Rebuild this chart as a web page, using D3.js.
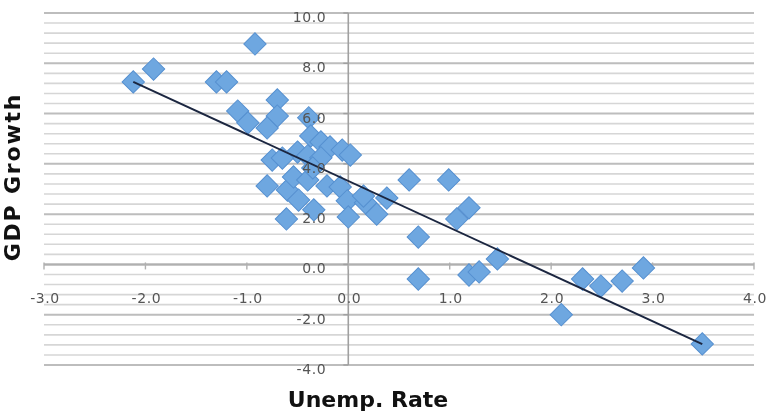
<!DOCTYPE html>
<html>
<head>
<meta charset="utf-8">
<script src="https://cdn.jsdelivr.net/npm/d3@7"></script>
<style>
  html, body { margin: 0; padding: 0; background: #fff; }
  svg { display: block; }
</style>
</head>
<body>
<svg id="chart" width="775" height="417"></svg>
<script>
// Unemployment-rate change vs. GDP growth, one diamond per observation
const unempRate = [
  -2.12, -1.92, -0.92, -1.30, -1.20, -1.09, -0.99, -0.70, -0.70, -0.80,
  -0.39, -0.37, -0.27, -0.18, -0.06, 0.02, -0.50, -0.40, -0.75, -0.65,
  -0.27, -0.80, -0.60, -0.54, -0.40, -0.21, -0.08, -0.49, -0.61, -0.34,
  -0.01, 0.00, 0.17, 0.28, 0.38, 0.15, 0.60, 0.99, 0.69, 0.69,
  1.07, 1.19, 1.19, 1.29, 1.47, 2.10, 2.31, 2.49, 2.70, 2.91,
  3.49, -0.35
];
const gdpGrowth = [
  7.26, 7.77, 8.77, 7.26, 7.26, 6.10, 5.63, 6.54, 5.90, 5.43,
  5.83, 5.11, 4.87, 4.67, 4.55, 4.35, 4.47, 4.32, 4.15, 4.23,
  4.24, 3.12, 2.96, 3.48, 3.36, 3.12, 3.08, 2.56, 1.81, 2.17,
  2.53, 1.89, 2.45, 2.00, 2.64, 2.72, 3.36, 3.36, 1.09, -0.58,
  1.81, 2.25, -0.42, -0.30, 0.22, -2.00, -0.58, -0.86, -0.66, -0.14,
  -3.16, 3.84
];

// Linear trend: GDP growth = trendIntercept + trendSlope * unemployment change
const trendSlope = -1.86;
const trendIntercept = 3.32;

const xTicks = [-3, -2, -1, 0, 1, 2, 3, 4];
const yTicks = [-4, -2, 0, 2, 4, 6, 8, 10];
const yMinorStep = 0.4;

const xTitle = "Unemp. Rate";
const yTitle = "GDP Growth";

const points = unempRate.map((u, i) => ({ x: u, y: gdpGrowth[i] }));

const svg = d3.select("#chart");

const x = d3.scaleLinear().domain([-3, 4]).range([44, 754]);
const y = d3.scaleLinear().domain([-4, 10]).range([365, 13]);

const defs = svg.append("defs");
defs.append("filter").attr("id", "soft")
  .attr("x", "-20%").attr("y", "-20%").attr("width", "140%").attr("height", "140%")
  .append("feGaussianBlur").attr("stdDeviation", 0.6);

// Horizontal gridlines: minor every 0.4, major every 2
const minorVals = d3.range(-4, 10 + 1e-9, yMinorStep).map(v => +v.toFixed(2));
const isMajor = v => Math.abs(v / 2 - Math.round(v / 2)) < 1e-6;
const grid = svg.append("g").attr("filter", "url(#soft)");
grid.selectAll("line.minor")
  .data(minorVals.filter(v => !isMajor(v)))
  .join("line")
  .attr("class", "minor")
  .attr("x1", x(-3)).attr("x2", x(4))
  .attr("y1", d => y(d)).attr("y2", d => y(d))
  .attr("stroke", "#d6d6d6").attr("stroke-width", 1.6);
grid.selectAll("line.major")
  .data(yTicks)
  .join("line")
  .attr("class", "major")
  .attr("x1", x(-3)).attr("x2", x(4))
  .attr("y1", d => y(d)).attr("y2", d => y(d))
  .attr("stroke", "#bdbdbd").attr("stroke-width", 2);

// Axes crossing at the origin
const axes = svg.append("g").attr("filter", "url(#soft)");
axes.append("line")
  .attr("x1", x(0)).attr("x2", x(0))
  .attr("y1", y(10)).attr("y2", y(-4))
  .attr("stroke", "#a0a0a0").attr("stroke-width", 1.6);
axes.append("line")
  .attr("x1", x(-3)).attr("x2", x(4))
  .attr("y1", y(0)).attr("y2", y(0))
  .attr("stroke", "#b0b0b0").attr("stroke-width", 2);
axes.selectAll("line.xtick")
  .data(xTicks)
  .join("line")
  .attr("class", "xtick")
  .attr("x1", d => x(d)).attr("x2", d => x(d))
  .attr("y1", y(0) - 2).attr("y2", y(0) + 5)
  .attr("stroke", "#b0b0b0").attr("stroke-width", 1.4);
axes.selectAll("line.ytick")
  .data(yTicks)
  .join("line")
  .attr("class", "ytick")
  .attr("x1", x(0) - 5).attr("x2", x(0))
  .attr("y1", d => y(d)).attr("y2", d => y(d))
  .attr("stroke", "#a0a0a0").attr("stroke-width", 1.4);

// Data markers
const diamond = d3.symbol().type(d3.symbolSquare).size(250);
svg.append("g").attr("filter", "url(#soft)")
  .selectAll("path")
  .data(points)
  .join("path")
  .attr("d", diamond)
  .attr("transform", d => `translate(${x(d.x)},${y(d.y)}) rotate(45)`)
  .attr("fill", "#6ea7e0")
  .attr("stroke", "#5690d0")
  .attr("stroke-width", 1);

// Trendline across the observed range
const xExtent = d3.extent(unempRate);
svg.append("line")
  .attr("x1", x(xExtent[0])).attr("y1", y(trendIntercept + trendSlope * xExtent[0]))
  .attr("x2", x(xExtent[1])).attr("y2", y(trendIntercept + trendSlope * xExtent[1]))
  .attr("stroke", "#1b2640").attr("stroke-width", 2);

// Tick labels (drawn above the markers, plain hyphen for negatives)
const labelStyle = sel => sel
  .attr("font-family", "'DejaVu Sans', sans-serif")
  .attr("font-size", 14)
  .attr("letter-spacing", 0.6)
  .attr("fill", "#555");

const fmt = v => v.toFixed(1);

svg.append("g").selectAll("text")
  .data(yTicks)
  .join("text")
  .attr("x", x(0) - 22)
  .attr("y", d => y(d) + 9)
  .attr("text-anchor", "end")
  .call(labelStyle)
  .text(d => fmt(d));

svg.append("g").selectAll("text")
  .data(xTicks)
  .join("text")
  .attr("x", d => x(d) + 1)
  .attr("y", y(0) + 39)
  .attr("text-anchor", "middle")
  .call(labelStyle)
  .text(d => fmt(d));

// Axis titles
svg.append("text")
  .attr("x", 368).attr("y", 407)
  .attr("text-anchor", "middle")
  .attr("font-family", "'DejaVu Sans', sans-serif")
  .attr("font-weight", 700)
  .attr("font-size", 22)
  .attr("fill", "#111")
  .text(xTitle);

svg.append("text")
  .attr("transform", "translate(20,177) rotate(-90)")
  .attr("text-anchor", "middle")
  .attr("font-family", "'DejaVu Sans', sans-serif")
  .attr("font-weight", 700)
  .attr("font-size", 22)
  .attr("letter-spacing", 1.8)
  .attr("fill", "#111")
  .text(yTitle);
</script>
</body>
</html>
